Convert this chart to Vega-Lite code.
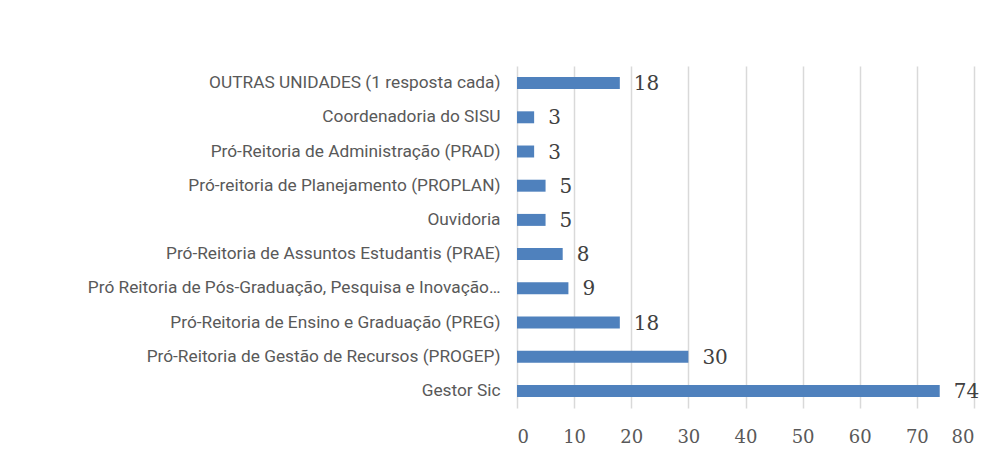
{
  "$schema": "https://vega.github.io/schema/vega-lite/v6.json",
  "autosize": {"type": "none"},
  "width": 457,
  "height": 342,
  "padding": {"left": 517, "top": 66, "right": 23, "bottom": 42},
  "background": "white",
  "config": {"view": {"stroke": null}},
  "data": {
    "values": [
      {"unidade": "OUTRAS UNIDADES (1 resposta cada)", "respostas": 18},
      {"unidade": "Coordenadoria do SISU", "respostas": 3},
      {"unidade": "Pró-Reitoria de Administração (PRAD)", "respostas": 3},
      {"unidade": "Pró-reitoria de Planejamento (PROPLAN)", "respostas": 5},
      {"unidade": "Ouvidoria", "respostas": 5},
      {"unidade": "Pró-Reitoria de Assuntos Estudantis (PRAE)", "respostas": 8},
      {"unidade": "Pró Reitoria de Pós-Graduação, Pesquisa e Inovação…", "respostas": 9},
      {"unidade": "Pró-Reitoria de Ensino e Graduação (PREG)", "respostas": 18},
      {"unidade": "Pró-Reitoria de Gestão de Recursos (PROGEP)", "respostas": 30},
      {"unidade": "Gestor Sic", "respostas": 74}
    ]
  },
  "encoding": {
    "y": {
      "field": "unidade",
      "type": "nominal",
      "sort": null,
      "title": null,
      "scale": {"paddingInner": 0.65, "paddingOuter": 0.325},
      "axis": {
        "domain": false,
        "ticks": false,
        "labelPadding": 17,
        "labelLimit": 600,
        "labelFont": "Roboto",
        "labelFontSize": 17.3,
        "labelColor": "#595959"
      }
    },
    "x": {
      "field": "respostas",
      "type": "quantitative",
      "title": null,
      "scale": {"domain": [0, 80], "nice": false},
      "axis": {
        "values": [0, 10, 20, 30, 40, 50, 60, 70, 80],
        "domain": false,
        "ticks": false,
        "grid": true,
        "gridColor": "#d9d9d9",
        "gridWidth": 1.5,
        "labelFont": "DejaVu Serif",
        "labelFontSize": 18,
        "labelColor": "#595959",
        "labelPadding": 20
      }
    }
  },
  "layer": [
    {"mark": {"type": "bar", "color": "#4f81bd"}},
    {
      "mark": {"type": "text", "align": "left", "baseline": "middle", "dx": 14, "dy": 1, "font": "DejaVu Serif", "fontSize": 20, "color": "#404040"},
      "encoding": {"text": {"field": "respostas", "type": "quantitative"}}
    }
  ]
}
